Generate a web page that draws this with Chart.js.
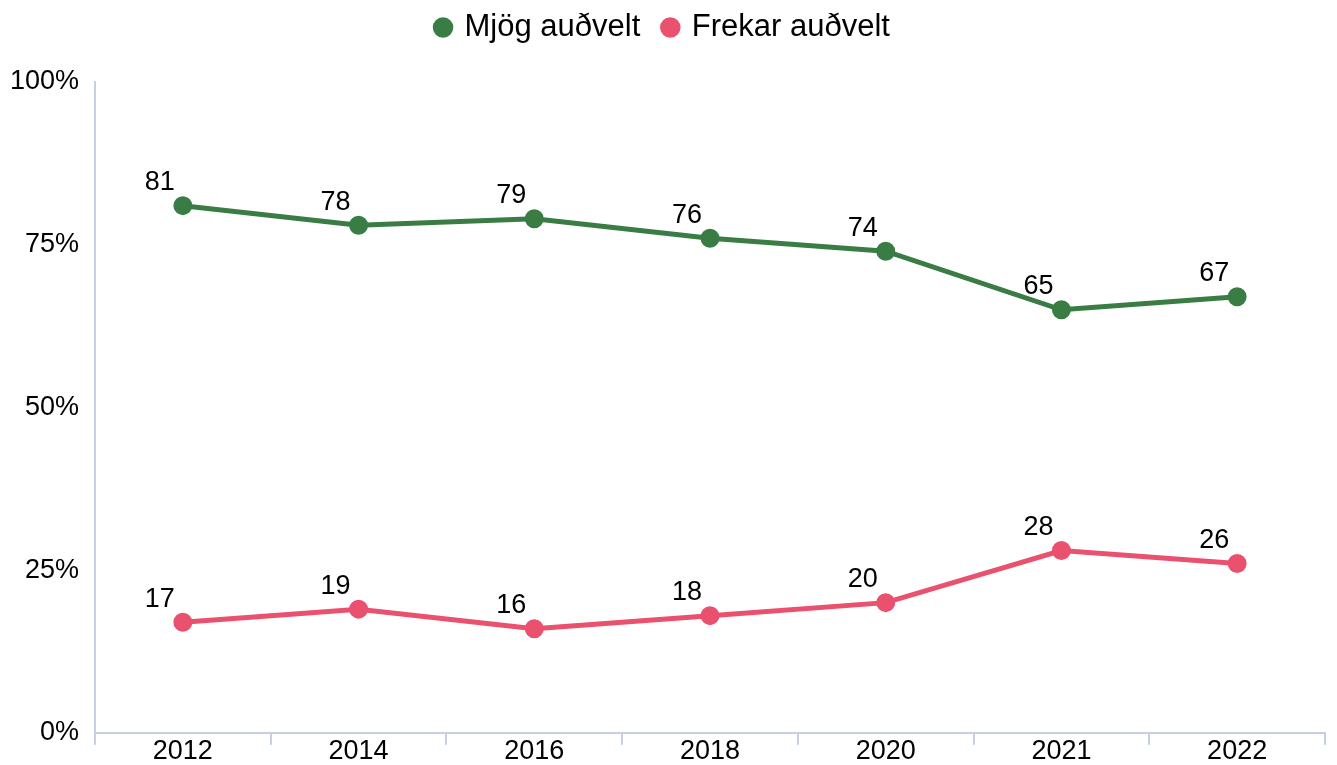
<!DOCTYPE html>
<html>
<head>
<meta charset="utf-8">
<script src="https://cdn.jsdelivr.net/npm/chart.js@4"></script>
<style>
    html, body { margin: 0; padding: 0; background: #fff; }
    #wrap { width: 1337px; height: 765px; }
</style>
</head>
<body>
<div id="wrap"><canvas id="lineChart"></canvas></div>
<script>
const years = ['2012', '2014', '2016', '2018', '2020', '2021', '2022'];
const mjogAudvelt = [81, 78, 79, 76, 74, 65, 67];
const frekarAudvelt = [17, 19, 16, 18, 20, 28, 26];
const yTicks = [0, 25, 50, 75, 100];

const green = '#3a7d44';
const pink = '#e9516f';
const axisColor = '#c5d1e0';
const fontFamily = '"Liberation Sans", Arial, sans-serif';

// draws the value above-left of each point
const valueLabels = {
    id: 'valueLabels',
    afterDatasetsDraw(chart) {
        const ctx = chart.ctx;
        ctx.save();
        ctx.font = '27px ' + fontFamily;
        ctx.fillStyle = '#000';
        ctx.textAlign = 'center';
        ctx.textBaseline = 'middle';
        chart.data.datasets.forEach((ds, i) => {
            const meta = chart.getDatasetMeta(i);
            meta.data.forEach((pt, j) => {
                ctx.fillText(ds.data[j], pt.x - 23, pt.y - 23);
            });
        });
        ctx.restore();
    }
};

// extra room under the legend
const legendSpace = {
    id: 'legendSpace',
    beforeInit(chart) {
        const fit = chart.legend.fit;
        chart.legend.fit = function () {
            fit.bind(chart.legend)();
            this.height += 29;
        };
    }
};

new Chart(document.getElementById('lineChart'), {
    type: 'line',
    data: {
        labels: years,
        datasets: [{
            label: 'Mjög auðvelt',
            data: mjogAudvelt,
            borderColor: green,
            backgroundColor: green,
            borderWidth: 5,
            pointRadius: 7,
            pointHoverRadius: 7,
            tension: 0
        }, {
            label: 'Frekar auðvelt',
            data: frekarAudvelt,
            borderColor: pink,
            backgroundColor: pink,
            borderWidth: 5,
            pointRadius: 7,
            pointHoverRadius: 7,
            tension: 0
        }]
    },
    options: {
        responsive: true,
        maintainAspectRatio: false,
        animation: false,
        layout: { padding: { top: -12, right: 10, left: 0, bottom: 0 } },
        plugins: {
            legend: {
                position: 'top',
                labels: {
                    usePointStyle: true,
                    pointStyle: 'circle',
                    boxWidth: 12,
                    boxHeight: 11,
                    padding: 24,
                    color: '#000',
                    font: { size: 31, family: fontFamily }
                }
            },
            tooltip: { enabled: false }
        },
        scales: {
            x: {
                offset: true,
                afterFit(scale) {
                    scale.height = 32;
                },
                grid: {
                    offset: true,
                    drawOnChartArea: false,
                    drawTicks: true,
                    tickLength: 12,
                    color: axisColor,
                    lineWidth: 2
                },
                border: { color: axisColor, width: 2 },
                ticks: {
                    color: '#000',
                    padding: -9,
                    font: { size: 27, family: fontFamily }
                }
            },
            y: {
                min: 0,
                max: 100,
                afterBuildTicks(scale) {
                    scale.ticks = yTicks.map(v => ({ value: v }));
                },
                afterFit(scale) {
                    scale.width = 95;
                },
                grid: { display: false, drawTicks: false },
                border: { color: axisColor, width: 2 },
                ticks: {
                    color: '#000',
                    padding: 16,
                    callback: v => v + '%',
                    font: { size: 27, family: fontFamily }
                }
            }
        }
    },
    plugins: [valueLabels, legendSpace]
});
</script>
</body>
</html>
